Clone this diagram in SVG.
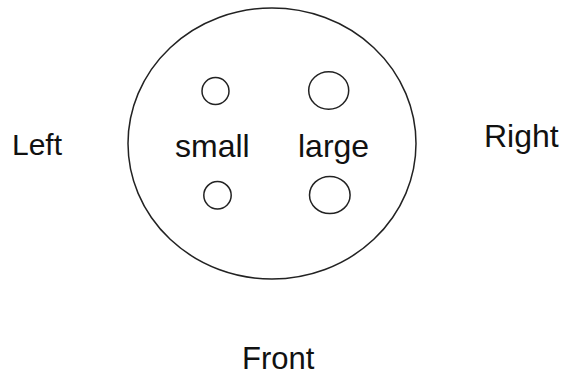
<svg xmlns="http://www.w3.org/2000/svg" width="565" height="377" viewBox="0 0 565 377">
<style>
.o{fill:none;stroke:#222;stroke-width:1.5}
.t{font-family:"Liberation Sans",Arial,sans-serif;fill:#111}
</style>
<rect width="565" height="377" fill="#fff"/>
<g id="plate"><ellipse class="o" cx="272" cy="143.5" rx="144" ry="135.5"/></g>
<g id="small-top"><circle class="o" cx="215.5" cy="91" r="13.5"/></g>
<g id="large-top"><ellipse class="o" cx="328.7" cy="90.5" rx="20" ry="18.8"/></g>
<g id="small-bottom"><circle class="o" cx="217.5" cy="195.3" r="13.7"/></g>
<g id="large-bottom"><ellipse class="o" cx="329.8" cy="195" rx="20.3" ry="18.5"/></g>
<g id="connectors"></g>
<g id="labels">
<text class="t" x="175" y="157" font-size="32">small</text>
<text class="t" x="298" y="157" font-size="32">large</text>
<text class="t" x="12" y="155" font-size="30">Left</text>
<text class="t" x="484" y="147" font-size="32">Right</text>
<text class="t" x="242" y="369" font-size="31">Front</text>
</g>
</svg>
